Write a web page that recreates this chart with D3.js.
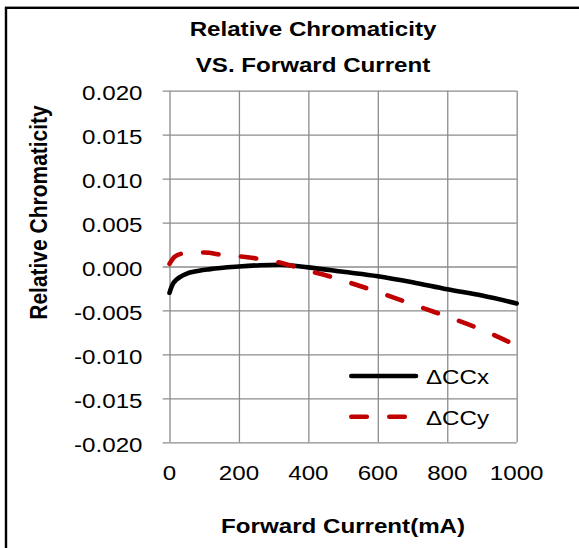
<!DOCTYPE html>
<html>
<head>
<meta charset="utf-8">
<script src="https://cdn.jsdelivr.net/npm/d3@7"></script>
<style>
  html, body { margin: 0; padding: 0; background: #fff; }
  svg { display: block; }
  text { font-family: "Liberation Sans", Arial, sans-serif; fill: #000; }
</style>
</head>
<body>
<div id="chart"></div>
<script>
// ---- data ----
const currentCCx = [0, 5, 11, 20, 30, 50, 69, 117, 200, 260, 318, 400, 500, 600, 700, 800, 900, 1000];
const valuesCCx  = [-0.0030, -0.0024, -0.0019, -0.0015, -0.0012, -0.0008, -0.0006, -0.0003, 0.0000, 0.00015, 0.0002, -0.0001, -0.0006, -0.0011, -0.0018, -0.0026, -0.0033, -0.0042];
const currentCCy = [0, 15, 40, 70, 100, 155, 213, 270, 300, 350, 400, 450, 500, 600, 700, 800, 900, 1000];
const valuesCCy  = [0.0003, 0.0011, 0.0015, 0.0016, 0.0016, 0.0013, 0.0011, 0.0008, 0.0006, 0.0001, -0.0005, -0.0010, -0.0016, -0.0029, -0.0043, -0.0057, -0.0072, -0.0090];
const seriesNames = ["\u0394CCx", "\u0394CCy"];
const xTicks = [0, 200, 400, 600, 800, 1000];
const yTicks = [-0.020, -0.015, -0.010, -0.005, 0.000, 0.005, 0.010, 0.015, 0.020];
const titleLines = ["Relative Chromaticity", "VS. Forward Current"];
const xTitle = "Forward Current(mA)";
const yTitle = "Relative Chromaticity";

// ---- layout ----
const W = 579, H = 548;
const L = 169.5, R = 516.7, T = 90.7, B = 442.3;
const SX = 1.15; // horizontal stretch of the reference text
const gridColor = "#8c8c8c";

const svg = d3.select("#chart").append("svg").attr("width", W).attr("height", H);

// outer frame (top + left visible)
svg.append("rect").attr("x", 6).attr("y", 7.8).attr("width", W + 10).attr("height", H + 10)
  .attr("fill", "none").attr("stroke", "#000").attr("stroke-width", 2.4);

const x = d3.scaleLinear().domain([0, 1000]).range([L, R]);
const y = d3.scaleLinear().domain([-0.02, 0.02]).range([B, T]);

// gridlines via axes
const gy = svg.append("g").attr("transform", `translate(${L - 6.8},0)`)
  .call(d3.axisLeft(y).tickValues(yTicks).tickSize(-(R - L + 6.8)).tickFormat(""));
gy.select(".domain").remove();
gy.selectAll("line").attr("stroke", gridColor).attr("stroke-width", 1.3);

const gx = svg.append("g").attr("transform", `translate(0,${B})`)
  .call(d3.axisBottom(x).tickValues(xTicks).tickSize(-(B - T)).tickFormat(""));
gx.select(".domain").remove();
gx.selectAll("line").attr("stroke", gridColor).attr("stroke-width", 1.3);

// tick labels
const fmtY = d3.format(".3f");
svg.append("g").selectAll("text").data(yTicks).join("text")
  .attr("transform", d => `translate(142.5,${y(d) + 9.3}) scale(${SX},1)`)
  .attr("text-anchor", "end").attr("font-size", 21)
  .text(d => fmtY(d).replace("\u2212", "-"));

svg.append("g").selectAll("text").data(xTicks).join("text")
  .attr("transform", d => `translate(${x(d)},480) scale(${SX},1)`)
  .attr("text-anchor", "middle").attr("font-size", 21)
  .text(d => d);

// titles
svg.append("g").selectAll("text").data(titleLines).join("text")
  .attr("transform", (d, i) => `translate(313,${36 + i * 36}) scale(${SX},1)`)
  .attr("text-anchor", "middle").attr("font-size", 21).attr("font-weight", "bold")
  .text(d => d);

svg.append("text")
  .attr("transform", `translate(${(L + R) / 2},533) scale(${SX},1)`)
  .attr("text-anchor", "middle").attr("font-size", 21).attr("font-weight", "bold")
  .text(xTitle);

svg.append("text")
  .attr("transform", `translate(47,212.5) scale(${SX},1) rotate(-90)`)
  .attr("text-anchor", "middle").attr("font-size", 21).attr("font-weight", "bold")
  .text(yTitle);

// series
const line = d3.line().x(d => x(d[0])).y(d => y(d[1])).curve(d3.curveMonotoneX);
const dataCCx = currentCCx.map((c, i) => [c, valuesCCx[i]]);
const dataCCy = currentCCy.map((c, i) => [c, valuesCCy[i]]);
const styles = [
  { color: "#000000", dash: null },
  { color: "#C00000", dash: "15.5,22.5" }
];

[dataCCx, dataCCy].forEach((data, i) => {
  svg.append("path").datum(data)
    .attr("d", line)
    .attr("fill", "none")
    .attr("stroke", styles[i].color)
    .attr("stroke-width", 4.6)
    .attr("stroke-linecap", "round")
    .attr("stroke-linejoin", "round")
    .attr("stroke-dasharray", styles[i].dash);
});

// legend
const leg = svg.append("g");
seriesNames.forEach((name, i) => {
  const ly = 376 + i * 40.7;
  leg.append("line")
    .attr("x1", 351.3).attr("x2", 416).attr("y1", ly).attr("y2", ly)
    .attr("stroke", styles[i].color).attr("stroke-width", 4.6)
    .attr("stroke-linecap", "round")
    .attr("stroke-dasharray", styles[i].dash);
  leg.append("text")
    .attr("transform", `translate(426,${ly + 8.3}) scale(${SX},1)`)
    .attr("font-family", "'Noto Sans', 'Open Sans', sans-serif")
    .attr("font-size", 21)
    .text(name);
});
</script>
</body>
</html>
